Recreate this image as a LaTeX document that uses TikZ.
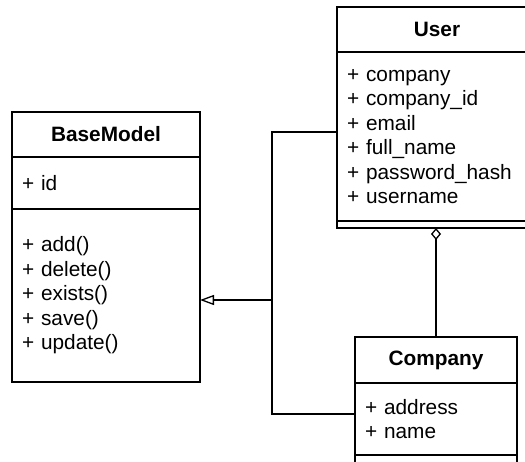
\documentclass[tikz,border=0pt]{standalone}
\usepackage{fontspec}
\setmainfont{Liberation Sans}
\usetikzlibrary{arrows.meta,positioning}

\begin{document}
\begin{tikzpicture}[
    x=0.5pt, y=-0.5pt,
    every node/.style={font=\fontsize{10.4pt}{12.25pt}\selectfont},
    classtitle/.style={draw, line width=0.65pt, fill=white, minimum width=#1, inner sep=0pt, outer sep=0pt, font=\fontsize{10.4pt}{12.25pt}\selectfont\bfseries},
    members/.style={draw, line width=0.65pt, fill=white, text width=#1, inner xsep=5pt, inner ysep=0pt, outer sep=0pt, align=left},
    link/.style={line width=0.65pt}
]
\useasboundingbox (0,0) rectangle (525,461);

% User class
\node[classtitle=100pt, minimum height=22.5pt] (user) at (437,29.5) {User};
\node[members=90pt, minimum height=84.5pt, below=0pt of user] (userattr) {
    + company\\
    + company\_id\\
    + email\\
    + full\_name\\
    + password\_hash\\
    + username
};
\node[members=90pt, minimum height=3.5pt, below=0pt of userattr] (usermeth) {};

% BaseModel class
\node[classtitle=94pt, minimum height=22.5pt] (base) at (106,134.5) {BaseModel};
\node[members=84pt, minimum height=26pt, below=0pt of base] (baseattr) {+ id};
\node[members=84pt, minimum height=86.5pt, below=0pt of baseattr] (basemeth) {
    + add()\\
    + delete()\\
    + exists()\\
    + save()\\
    + update()
};

% Company class
\node[classtitle=81pt, minimum height=23pt] (company) at (436,360) {Company};
\node[members=71pt, minimum height=36pt, below=0pt of company] (companyattr) {
    + address\\
    + name
};
\node[members=71pt, minimum height=4pt, below=0pt of companyattr] (companymeth) {};

% Generalisation
\coordinate (join) at (272,300);
\draw[link] ([yshift=2.25pt]userattr.west) -| (join);
\draw[link] ([yshift=2.5pt]companyattr.west) -| (join);
\draw[link, -{Triangle[open, length=7pt, width=5pt]}] (join) -- ([yshift=-2.25pt]basemeth.east);

% Aggregation
\draw[link, -{Diamond[open, length=6pt, width=5pt]}] (company.north) -- (company.north |- usermeth.south);

\end{tikzpicture}
\end{document}
